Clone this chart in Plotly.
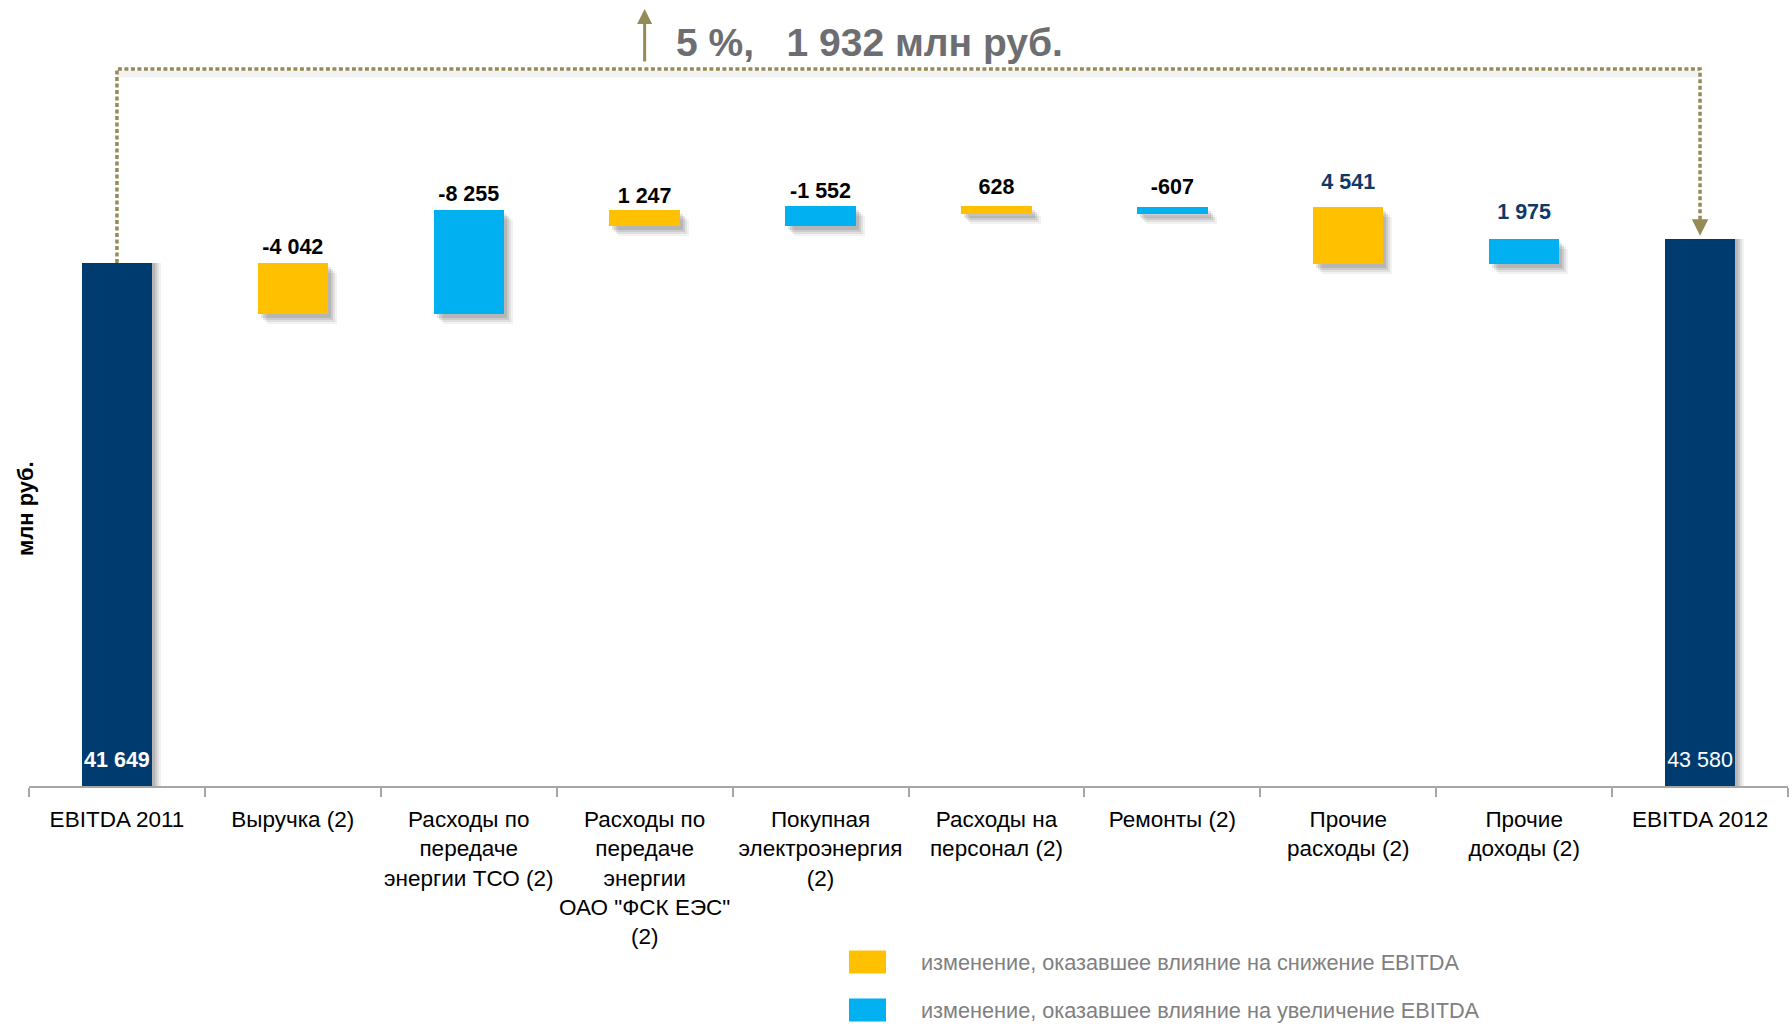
import plotly.graph_objects as go

# ---- data -------------------------------------------------------------
categories = [
    "EBITDA 2011",
    "Выручка (2)",
    "Расходы по<br>передаче<br>энергии ТСО (2)",
    "Расходы по<br>передаче<br>энергии<br>ОАО \"ФСК ЕЭС\"<br>(2)",
    "Покупная<br>электроэнергия<br>(2)",
    "Расходы на<br>персонал (2)",
    "Ремонты (2)",
    "Прочие<br>расходы (2)",
    "Прочие<br>доходы (2)",
    "EBITDA 2012",
]
ebitda_2011 = 41649
ebitda_2012 = 43580

# reported change of each factor (as printed above the bars)
factor_values = [-4042, -8255, 1247, -1552, 628, -607, 4541, 1975]
# +1 for income lines, -1 for expense lines (effect on EBITDA = sign * value)
factor_sign = [1, -1, -1, -1, -1, -1, -1, 1]

growth_pct = 5
growth_abs = 1932

# ---- styling ----------------------------------------------------------
NAVY = "#003B70"
YELLOW = "#FFC000"
BLUE = "#00B0F0"
OLIVE = "#958B57"
GREY_TXT = "#6D6E71"
FONT = "Liberation Sans, Arial, sans-serif"

W, H = 1792, 1026
ML, MR, MT, MB = 29, 4, 0, 240
PLOT_W = W - ML - MR
PLOT_H = H - MT - MB
Y_MAX = 62590
UNITS_PER_PX = Y_MAX / PLOT_H
BAR_W = 0.40
# gap (px) between each factor bar and its value label
LABEL_GAP_PX = [4, 4, 2, 3, 7, 7, 12, 14]


def fmt(v):
    return f"{v:,}".replace(",", " ")


def px_x(x):
    return (x - ML) / PLOT_W


def px_y(y):
    return 1 - (y - MT) / PLOT_H


# ---- waterfall geometry from the data ---------------------------------
effects = [s * v for s, v in zip(factor_sign, factor_values)]
bases, heights = [], []
level = ebitda_2011
for e in effects:
    new_level = level + e
    bases.append(min(level, new_level))
    heights.append(abs(e))
    level = new_level
tops = [b + h for b, h in zip(bases, heights)]

factor_cats = categories[1:-1]
total_cats = [categories[0], categories[-1]]
total_vals = [ebitda_2011, ebitda_2012]
factor_colors = [YELLOW if e < 0 else BLUE for e in effects]
label_colors = ["#000000"] * 6 + ["#0E3A6A", "#0E3A6A"]

fig = go.Figure()

# soft drop shadows (translucent layers shifted right/down)
for dx_px, dy_px, alpha in [(9, 10, 0.05), (7, 8, 0.07), (5, 6, 0.09), (3, 4, 0.10)]:
    dx = dx_px / (PLOT_W / len(categories))
    dy = dy_px * UNITS_PER_PX
    fig.add_bar(
        x=total_cats + factor_cats,
        y=total_vals + heights,
        base=[0, 0] + [b - dy for b in bases],
        width=BAR_W,
        offset=-BAR_W / 2 + dx,
        marker=dict(color=f"rgba(0,0,0,{alpha})", line_width=0),
        hoverinfo="skip",
        showlegend=False,
    )

# total bars
fig.add_bar(
    x=total_cats,
    y=total_vals,
    width=BAR_W,
    marker=dict(color=NAVY, line_width=0),
    hoverinfo="x+y",
    showlegend=False,
)

# factor bars
fig.add_bar(
    x=factor_cats,
    y=heights,
    base=bases,
    width=BAR_W,
    marker=dict(color=factor_colors, line_width=0),
    hoverinfo="x",
    showlegend=False,
)

# value labels above the factor bars
fig.add_scatter(
    x=factor_cats,
    y=[t + g * UNITS_PER_PX for t, g in zip(tops, LABEL_GAP_PX)],
    mode="text",
    text=[f"<b>{fmt(v)}</b>" for v in factor_values],
    textposition="top center",
    textfont=dict(family=FONT, size=21.5, color=label_colors),
    hoverinfo="skip",
    showlegend=False,
    cliponaxis=False,
)

# value labels at the foot of the total bars
fig.add_scatter(
    x=total_cats,
    y=[24 * UNITS_PER_PX] * 2,
    mode="text",
    text=[f"<b>{fmt(ebitda_2011)}</b>", fmt(ebitda_2012)],
    textposition="middle center",
    textfont=dict(family=FONT, size=21.5, color="white"),
    hoverinfo="skip",
    showlegend=False,
)

# dotted connector from EBITDA 2011 to EBITDA 2012
bridge_y = 57100
fig.add_scatter(
    x=[categories[0], categories[-1]],
    y=[bridge_y - 5 * UNITS_PER_PX] * 2,
    mode="lines",
    line=dict(color="rgba(0,0,0,0.05)", width=7),
    hoverinfo="skip",
    showlegend=False,
)
fig.add_scatter(
    x=[categories[0], categories[0], categories[-1], categories[-1]],
    y=[ebitda_2011, bridge_y, bridge_y, ebitda_2012 + 18 * UNITS_PER_PX],
    mode="lines",
    line=dict(color=OLIVE, width=3.5, dash="4px,2.5px"),
    hoverinfo="skip",
    showlegend=False,
)

annotations = [
    # arrowhead of the connector
    dict(x=categories[-1], y=ebitda_2012 + 3 * UNITS_PER_PX, xref="x", yref="y",
         ax=0, ay=-17, text="", showarrow=True, arrowhead=2, arrowsize=1.1,
         arrowwidth=3, arrowcolor=OLIVE),
    # growth arrow
    dict(x=categories[3], y=Y_MAX - 9 * UNITS_PER_PX, xref="x", yref="y",
         ax=0, ay=54, text="", showarrow=True, arrowhead=2, arrowsize=1,
         arrowwidth=3, arrowcolor=OLIVE),
    dict(x=px_x(674), y=px_y(43), xref="paper", yref="paper",
         text=f"<b>{growth_pct} %,   {fmt(growth_abs)} млн руб.</b>",
         showarrow=False, xanchor="left", yanchor="middle",
         font=dict(family=FONT, size=39, color=GREY_TXT)),
    # y-axis title
    dict(x=px_x(25), y=px_y(509), xref="paper", yref="paper",
         text="<b>млн руб.</b>", textangle=-90, showarrow=False,
         xanchor="center", yanchor="middle",
         font=dict(family=FONT, size=22, color="black")),
]

legend_items = [
    (YELLOW, "изменение, оказавшее влияние на снижение EBITDA", 962),
    (BLUE, "изменение, оказавшее влияние на увеличение EBITDA", 1010),
]
shapes = []
for color, label, yc in legend_items:
    shapes.append(dict(type="rect", xref="paper", yref="paper",
                       x0=px_x(849), x1=px_x(886),
                       y0=px_y(yc - 11.5), y1=px_y(yc + 11.5),
                       fillcolor=color, line_width=0))
    annotations.append(dict(x=px_x(919), y=px_y(yc), xref="paper", yref="paper",
                            text=label, showarrow=False, xanchor="left",
                            yanchor="middle",
                            font=dict(family=FONT, size=21.7, color="#808080")))

fig.update_layout(
    width=W, height=H,
    margin=dict(l=ML, r=MR, t=MT, b=MB),
    paper_bgcolor="white", plot_bgcolor="white",
    barmode="overlay",
    bargap=0,
    annotations=annotations,
    shapes=shapes,
    font=dict(family=FONT),
    xaxis=dict(
        type="category",
        categoryorder="array", categoryarray=categories,
        range=[-0.5, len(categories) - 0.5],
        showline=True, linecolor="#A6A6A6", linewidth=2,
        ticks="outside", ticklen=9, tickwidth=2, tickcolor="#A6A6A6",
        tickson="boundaries",
        tickangle=0,
        ticklabelstandoff=12,
        automargin=False,
        showgrid=False, zeroline=False,
        tickfont=dict(family=FONT, size=22.5, color="black"),
    ),
    yaxis=dict(range=[0, Y_MAX], visible=False, showgrid=False, zeroline=False),
)

fig.write_html("out.html")
